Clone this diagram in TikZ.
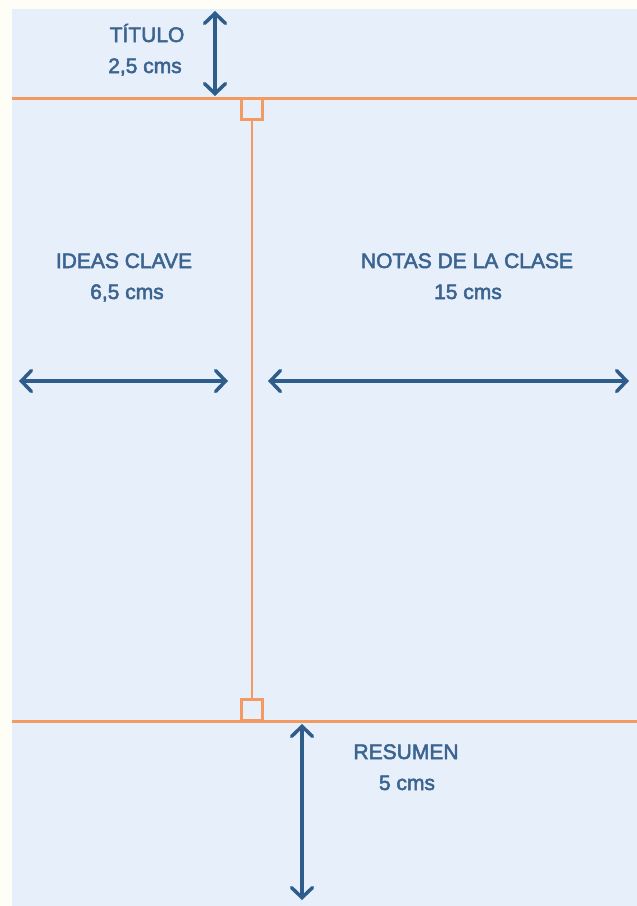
\documentclass[tikz,border=0pt]{standalone}
\usepackage{fontspec}
\setmainfont{Liberation Sans}[FakeBold=2.5]
\usetikzlibrary{arrows.meta}

\definecolor{paper}{HTML}{FFFEF6}
\definecolor{sheet}{HTML}{E7EFFB}
\definecolor{rule}{HTML}{F29A62}
\definecolor{ink}{HTML}{2E5C8B}
\definecolor{inktext}{HTML}{3B6490}

\begin{document}
\begin{tikzpicture}[x=1pt,y=-1pt,
    margin/.style={draw=rule,line width=3pt},
    corner/.style={rectangle,draw=rule,line width=2.5pt,fill=sheet,minimum size=21pt,inner sep=0pt,outer sep=0pt},
    measure/.style={draw=ink,line width=3.5pt,line cap=round,
        {Straight Barb[length=10pt,width=21pt,line cap=round]}-{Straight Barb[length=10pt,width=21pt,line cap=round]}},
    dimtext/.style={text=inktext,font=\fontsize{21}{25}\selectfont,anchor=base,inner sep=0pt}]

    \useasboundingbox (0,0) rectangle (637,906);
    \fill[paper] (0,0) rectangle (637,906);
    \fill[sheet] (12,9) rectangle (637,906);

    % Margin lines
    \coordinate (topL) at (12,98);
    \coordinate (topR) at (637,98);
    \coordinate (botL) at (12,721);
    \coordinate (botR) at (637,721);
    \draw[margin] (topL) -- (topR);
    \draw[margin] (botL) -- (botR);

    \node[corner,anchor=north] (sqTop) at (252,98.5) {};
    \node[corner,anchor=south] (sqBot) at (252,720.5) {};
    \draw[margin,line width=2.5pt] (sqTop.south) -- (sqBot.north);

    % Title
    \coordinate (titTop) at (215,11);
    \coordinate (titBot) at (215,96);
    \draw[measure] (titTop) -- (titBot);
    \node[dimtext] (titulo) at (147,42) {TÍTULO};
    \node[dimtext] (tituloCm) at (145,73) {2,5 cms};

    % Key ideas column
    \coordinate (ideaL) at (19,381);
    \coordinate (ideaR) at (228,381);
    \draw[measure] (ideaL) -- (ideaR);
    \node[dimtext] (ideas) at (124,268) {IDEAS CLAVE};
    \node[dimtext] (ideasCm) at (127,299) {6,5 cms};

    % Class notes column
    \coordinate (notaL) at (268,381);
    \coordinate (notaR) at (629,381);
    \draw[measure] (notaL) -- (notaR);
    \node[dimtext] (notas) at (467,268) {NOTAS DE LA CLASE};
    \node[dimtext] (notasCm) at (468,299) {15 cms};

    % Summary
    \coordinate (resTop) at (302,724);
    \coordinate (resBot) at (302,900);
    \draw[measure] (resTop) -- (resBot);
    \node[dimtext] (resumen) at (406,759) {RESUMEN};
    \node[dimtext] (resumenCm) at (407,790) {5 cms};
\end{tikzpicture}
\end{document}
